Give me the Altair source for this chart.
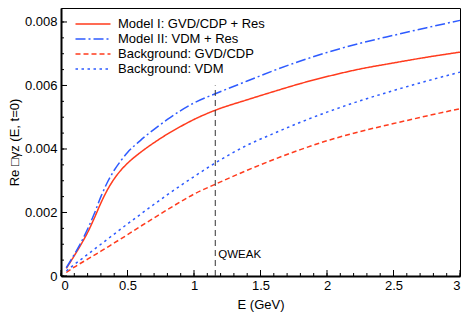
import altair as alt
import pandas as pd
import numpy as np

# ---- data ----
energy_models = [0.04, 0.1, 0.15, 0.2, 0.25, 0.3, 0.35, 0.4, 0.45, 0.5, 0.6, 0.7, 0.8, 0.9,
                 1.0, 1.16, 1.4, 1.6, 1.8, 2.0, 2.25, 2.5, 2.75, 3.0]
model1 = [0.00024, 0.00064, 0.00099, 0.00137, 0.00182, 0.0023, 0.00272, 0.00306, 0.00333,
          0.00355, 0.0039, 0.0042, 0.00447, 0.00471, 0.00493, 0.00522, 0.00555, 0.00581,
          0.00606, 0.00628, 0.00652, 0.00671, 0.00689, 0.00705]
model2 = [0.00026, 0.00068, 0.00105, 0.00148, 0.00196, 0.0025, 0.00296, 0.00333, 0.00363,
          0.00389, 0.00428, 0.00462, 0.00493, 0.00521, 0.00545, 0.00574, 0.00614, 0.00647,
          0.00677, 0.00704, 0.00733, 0.00758, 0.00782, 0.00805]

energy_bg = [0.04, 0.1, 0.2, 0.3, 0.4, 0.5, 0.6, 0.7, 0.8, 0.9, 1.0, 1.16, 1.4, 1.6, 1.8,
             2.0, 2.25, 2.5, 2.75, 3.0]
bg_gvd = [0.00011, 0.00028, 0.00053, 0.00078, 0.00104, 0.0013, 0.00157, 0.00183, 0.00209,
          0.00234, 0.00258, 0.00289, 0.00333, 0.00367, 0.00398, 0.00426, 0.00455, 0.0048,
          0.00504, 0.00527]
bg_vdm = [0.00016, 0.00036, 0.00068, 0.001, 0.00132, 0.00164, 0.00195, 0.00226, 0.00256,
          0.00285, 0.00313, 0.00356, 0.00412, 0.00449, 0.00484, 0.00516, 0.00552, 0.00584,
          0.00614, 0.00642]

series_names = ["Model I: GVD/CDP + Res", "Model II: VDM + Res",
                "Background: GVD/CDP", "Background: VDM"]
series_energy = [energy_models, energy_models, energy_bg, energy_bg]
series_values = [model1, model2, bg_gvd, bg_vdm]
series_colors = ["#ff3b1d", "#2e5bff", "#ff3b1d", "#2e5bff"]
series_dashes = [[1, 0], [10, 3, 2, 3], [5, 3], [2.5, 3.5]]

x_major = [0, 0.5, 1, 1.5, 2, 2.5, 3]
x_minor = [round(v, 2) for v in np.arange(0, 3.001, 0.1)]
y_major = [0, 0.002, 0.004, 0.006, 0.008]
y_minor = [round(v, 5) for v in np.arange(0, 0.0084, 0.0005)]

qweak_E = 1.16
qweak_top = 0.006
qweak_label_y = 0.00057

# ---- build ----
rows = []
for name, es, vals in zip(series_names, series_energy, series_values):
    for e, v in zip(es, vals):
        rows.append({"E": e, "v": v, "series": name})
df = pd.DataFrame(rows)

W, H = 399, 268
FONT = "Liberation Sans"
xs = alt.Scale(domain=[0, 3], nice=False, zero=False)
ys = alt.Scale(domain=[0, 0.00844], nice=False, zero=False)

leg = alt.Legend(title=None, orient="none", legendX=24, legendY=8,
                 symbolType="M-2.5,0H2.5", symbolSize=196, symbolStrokeWidth=1.5,
                 labelFontSize=13, labelFont=FONT, labelColor="black",
                 labelLimit=400, labelOffset=17, rowPadding=0, padding=0)

lines = alt.Chart(df).mark_line(strokeWidth=1.5, interpolate="monotone").encode(
    x=alt.X("E:Q", scale=xs, title="E (GeV)",
            axis=alt.Axis(values=x_major, ticks=False, labelPadding=3,
                          labelExpr="format(datum.value, '~g')",
                          grid=False, titlePadding=6)),
    y=alt.Y("v:Q", scale=ys, title="Re □γz (E, t=0)",
            axis=alt.Axis(values=y_major, ticks=False, labelPadding=4,
                          labelExpr="datum.value == 0 ? '0' : format(datum.value, '.3f')",
                          grid=False, titlePadding=3)),
    color=alt.Color("series:N", scale=alt.Scale(domain=series_names, range=series_colors),
                    sort=series_names, legend=leg),
    strokeDash=alt.StrokeDash("series:N", scale=alt.Scale(domain=series_names, range=series_dashes),
                              sort=series_names, legend=leg),
)

def xticks(vals, length):
    return alt.Chart(pd.DataFrame({"E": vals})).mark_rule(color="black", strokeWidth=1).encode(
        x=alt.X("E:Q", scale=xs), y=alt.value(H), y2=alt.value(H - length))

def yticks(vals, length):
    return alt.Chart(pd.DataFrame({"v": vals})).mark_rule(color="black", strokeWidth=1).encode(
        y=alt.Y("v:Q", scale=ys), x=alt.value(0), x2=alt.value(length))

qdf = pd.DataFrame({"E": [qweak_E], "v": [0.0], "v2": [qweak_top]})
qlab = pd.DataFrame({"E": [qweak_E], "v": [qweak_label_y], "label": ["QWEAK"]})
qrule = alt.Chart(qdf).mark_rule(color="#333333", strokeWidth=1, strokeDash=[6, 4]).encode(
    x=alt.X("E:Q", scale=xs), y=alt.Y("v:Q", scale=ys), y2="v2:Q")
qtext = alt.Chart(qlab).mark_text(align="left", baseline="alphabetic", dx=3, fontSize=11.5,
                                  font=FONT, color="black").encode(
    x=alt.X("E:Q", scale=xs), y=alt.Y("v:Q", scale=ys), text="label:N")

chart = alt.layer(
    lines, xticks(x_minor, 3), xticks(x_major, 6), yticks(y_minor, 3), yticks(y_major, 6),
    qrule, qtext
).properties(
    width=W, height=H,
    autosize=alt.AutoSizeParams(type="none"),
    padding={"left": 53, "top": 0, "right": 1, "bottom": 45},
).configure_view(
    stroke="black", strokeWidth=1
).configure_axis(
    domainColor="black", domainWidth=2, labelFont=FONT, titleFont=FONT,
    labelFontSize=13, titleFontSize=13, labelColor="black", titleColor="black",
    titleFontWeight="normal"
).configure_legend(
    fillColor=None
)

chart.save("out.html", embed_options={"renderer": "svg", "actions": False})
